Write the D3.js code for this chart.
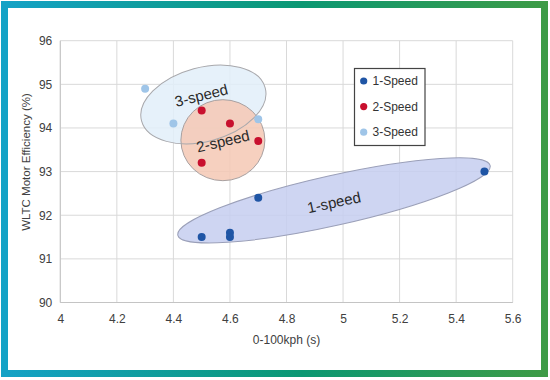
<!DOCTYPE html>
<html><head><meta charset="utf-8">
<script src="https://cdn.jsdelivr.net/npm/d3@7/dist/d3.min.js"></script>
<style>html,body{margin:0;padding:0;background:#fff}svg{display:block}text{font-family:"Liberation Sans",Arial,sans-serif}</style>
</head><body><svg id="c" width="550" height="380"></svg>
<script>
// ---- data ----
const seriesNames = ["1-Speed", "2-Speed", "3-Speed"];
const speed1 = [[4.5, 91.5], [4.6, 91.6], [4.6, 91.5], [4.7, 92.4], [5.5, 93.0]];
const speed2 = [[4.5, 94.4], [4.6, 94.1], [4.7, 93.7], [4.5, 93.2]];
const speed3 = [[4.3, 94.9], [4.4, 94.1], [4.7, 94.2]];
const xTicks = [4, 4.2, 4.4, 4.6, 4.8, 5, 5.2, 5.4, 5.6];
const yTicks = [90, 91, 92, 93, 94, 95, 96];
const groupLabels = ["1-speed", "2-speed", "3-speed"];
// group centres (data units)
const groupCentres = [[4.968, 92.34], [4.575, 93.72], [4.506, 94.54]];

const colors = ["#1f55a5", "#c8102e", "#9fc5e8"];
const W = 550, H = 380;
const m = {l: 60.3, r: 37.3, t: 40.7, b: 77.5};
const svg = d3.select("#c");
const x = d3.scaleLinear().domain([4, 5.6]).range([m.l, W - m.r]);
const y = d3.scaleLinear().domain([90, 96]).range([H - m.b, m.t]);

// frame gradient
const defs = svg.append("defs");
const g = defs.append("linearGradient").attr("id", "fr").attr("x1", "0").attr("x2", "1").attr("y1", "0").attr("y2", "0");
g.append("stop").attr("offset", "0").attr("stop-color", "#14a2c6");
g.append("stop").attr("offset", "0.55").attr("stop-color", "#0b9873");
g.append("stop").attr("offset", "1").attr("stop-color", "#3d9b46");
svg.append("rect").attr("x", 4.5).attr("y", 4.5).attr("width", 540).attr("height", 369)
  .attr("fill", "#fff").attr("stroke", "url(#fr)").attr("stroke-width", 7);

// grid
const grid = svg.append("g");
grid.selectAll(".vx").data(xTicks).join("line")
  .attr("x1", d => x(d)).attr("x2", d => x(d)).attr("y1", y(96)).attr("y2", y(90))
  .attr("stroke", "#d9d9d9").attr("stroke-width", 1);
grid.selectAll(".hy").data(yTicks).join("line")
  .attr("x1", x(4)).attr("x2", x(5.6)).attr("y1", d => y(d)).attr("y2", d => y(d))
  .attr("stroke", "#d9d9d9").attr("stroke-width", 1);
svg.append("line").attr("x1", x(4)).attr("x2", x(4)).attr("y1", y(96)).attr("y2", y(90)).attr("stroke", "#c4c4c4");
svg.append("line").attr("x1", x(4)).attr("x2", x(5.6)).attr("y1", y(90)).attr("y2", y(90)).attr("stroke", "#c4c4c4");

// axes
const fmt = d3.format("~g");
const xa = svg.append("g").attr("transform", `translate(0,${y(90)})`)
  .call(d3.axisBottom(x).tickValues(xTicks).tickSize(0).tickPadding(12).tickFormat(fmt));
const ya = svg.append("g").attr("transform", `translate(${x(4)},0)`)
  .call(d3.axisLeft(y).tickValues(yTicks).tickSize(0).tickPadding(8).tickFormat(fmt));
[xa, ya].forEach(a => { a.select(".domain").remove(); a.selectAll("text").attr("font-size", 12).attr("fill", "#404040").attr("font-family", "Liberation Sans, Arial, sans-serif"); });

svg.append("text").attr("x", x(4.8)).attr("y", 344).attr("text-anchor", "middle")
  .attr("font-size", 12).attr("fill", "#404040").text("0-100kph (s)");
svg.append("text").attr("transform", `translate(30,162) rotate(-90)`).attr("text-anchor", "middle")
  .attr("font-size", 11.5).attr("fill", "#404040").text("WLTC Motor Efficiency (%)");

// group ellipses
const ell = [
  {c: groupCentres[0], rx: 160, ry: 25, rot: -12.6, fill: "#c6cef0", stroke: "#9a9fb8"},
  {c: groupCentres[1], rx: 42, ry: 40.5, rot: 0, fill: "#f5c8b4", stroke: "#a8a0a0"},
  {c: groupCentres[2], rx: 64, ry: 37, rot: -15, fill: "#e2eef9", stroke: "#a8a8ac"}
];
const eg = svg.append("g");
function ellAttr(sel, e) {
  sel.attr("cx", 0).attr("cy", 0).attr("rx", e.rx).attr("ry", e.ry)
    .attr("transform", `translate(${x(e.c[0])},${y(e.c[1])}) rotate(${e.rot})`);
}
// 1-speed
eg.append("ellipse").call(ellAttr, ell[0]).attr("fill", ell[0].fill).attr("fill-opacity", 0.85).attr("stroke", ell[0].stroke);
// 3-speed fill, 2-speed fill, overlap
eg.append("ellipse").call(ellAttr, ell[2]).attr("fill", ell[2].fill).attr("fill-opacity", 0.85);
eg.append("ellipse").call(ellAttr, ell[1]).attr("fill", ell[1].fill).attr("fill-opacity", 0.85);
defs.append("clipPath").attr("id", "clip2").append("ellipse").call(ellAttr, ell[1]);
eg.append("ellipse").call(ellAttr, ell[2]).attr("clip-path", "url(#clip2)").attr("fill", "#dbc0cc").attr("fill-opacity", 0.9);
eg.append("ellipse").call(ellAttr, ell[1]).attr("fill", "none").attr("stroke", ell[1].stroke);
eg.append("ellipse").call(ellAttr, ell[2]).attr("fill", "none").attr("stroke", ell[2].stroke);

// labels
const labOff = [[0, 2], [0, 1], [-2, -9]];
const labRot = [-12, -13, -14];
groupLabels.forEach((t, i) => {
  const cx = x(groupCentres[i][0]) + labOff[i][0], cy = y(groupCentres[i][1]) + labOff[i][1];
  svg.append("text").attr("transform", `translate(${cx},${cy}) rotate(${labRot[i]})`)
    .attr("text-anchor", "middle").attr("dy", "0.35em").attr("font-size", 15).attr("fill", "#2a2a2a").text(t);
});

// points
[speed1, speed2, speed3].forEach((s, i) => {
  svg.append("g").selectAll("circle").data(s).join("circle")
    .attr("cx", d => x(d[0])).attr("cy", d => y(d[1])).attr("r", 4).attr("fill", colors[i]);
});

// legend
const lg = svg.append("g");
lg.append("rect").attr("x", 354.5).attr("y", 68.5).attr("width", 70.5).attr("height", 77)
  .attr("fill", "#fff").attr("stroke", "#444").attr("stroke-width", 1.2);
seriesNames.forEach((n, i) => {
  const yy = 81 + i * 25.6;
  lg.append("circle").attr("cx", 363.7).attr("cy", yy).attr("r", 3.6).attr("fill", colors[i]);
  lg.append("text").attr("x", 372.5).attr("y", yy).attr("dy", "0.35em").attr("font-size", 12).attr("fill", "#333").text(n);
});
</script></body></html>
